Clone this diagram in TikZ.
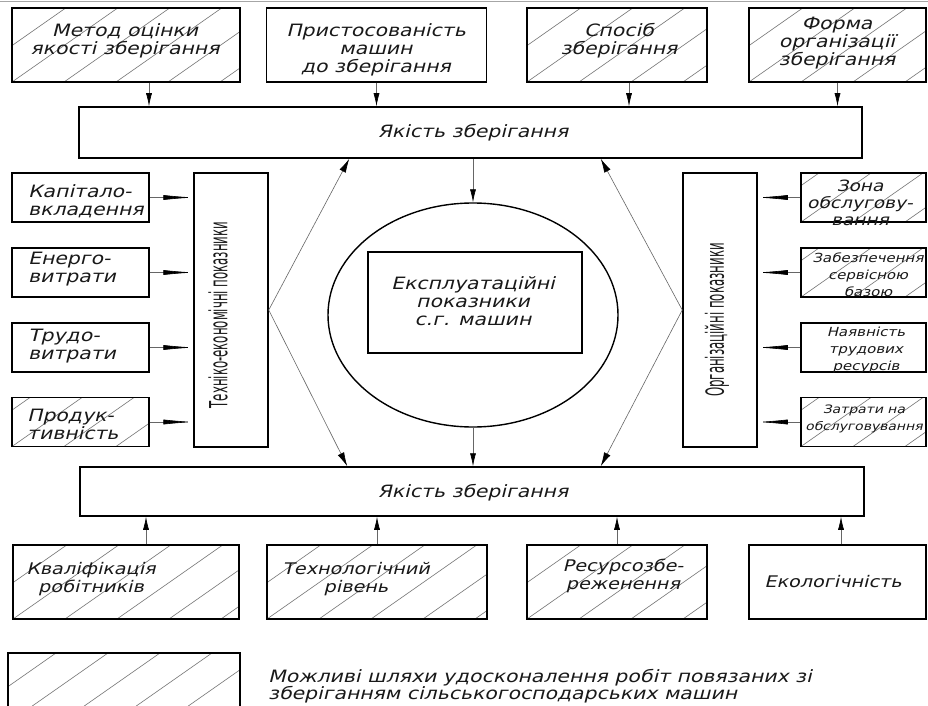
\documentclass[tikz,border=0pt]{standalone}
\usepackage{fontspec}
\setmainfont{DejaVu Sans}
\newfontfamily\gost{DejaVu Sans}[FakeStretch=1.2,FakeSlant=0.25]
\newfontfamily\gostv{DejaVu Sans}[FakeStretch=0.47]
\usetikzlibrary{shapes.geometric,arrows.meta}
\begin{document}
\begin{tikzpicture}[x=1pt,y=-1pt,
  box/.style={draw=black, line width=1.5pt, rectangle, inner sep=0pt},
  hatchline/.style={draw=black!55, line width=0.6pt},
  hatched/.style={path picture={\foreach \k in {-3,...,5}{\draw[hatchline] ([xshift={\k*52pt}]path picture bounding box.south west) -- ++(35:320pt);}}},
  txt/.style={font=\gost\fontsize{17}{18}\selectfont, align=center, inner sep=0pt, text=black!90},
  stxt/.style={font=\gost\fontsize{12.5}{17}\selectfont, align=center, inner sep=0pt, text=black!90},
  vtxt/.style={font=\gostv\fontsize{25}{25}\selectfont, rotate=90, inner sep=0pt, text=black!90},
  arr/.style={draw=black!60, line width=0.6pt, -{Latex[length=13pt,width=6pt,color=black]}},
  harr/.style={draw=black!60, line width=0.6pt, -{Latex[length=30pt,width=5pt,color=black]}},
  darr/.style={draw=black!60, line width=0.6pt, -{Latex[length=14pt,width=7pt,color=black]}}
]
\clip (0,0) rectangle (928,706);
\fill[white] (0,0) rectangle (928,706);
\draw[black!35, line width=1pt] (0,1.5) -- (928,1.5);

% top row
\node[box, hatched, minimum width=228pt, minimum height=74pt] (t1) at (126,45) {};
\node[box, minimum width=220pt, minimum height=74pt] (t2) at (376.5,45) {};
\node[box, hatched, minimum width=180pt, minimum height=74pt] (t3) at (617,45) {};
\node[box, hatched, minimum width=177pt, minimum height=74pt] (t4) at (837.5,45) {};
\node[txt] (t1t) at (125,41) {Метод оцінки\\якості зберігання};
\node[txt] (t2t) at (376,50) {Пристосованість\\машин\\до зберігання};
\node[txt] (t3t) at (619,41) {Спосіб\\зберігання};
\node[txt] (t4t) at (837,43) {Форма\\організації\\зберігання};

% bars
\node[box, minimum width=783pt, minimum height=51pt] (q1) at (470.5,132.5) {};
\node[txt] (q1t) at (473,133) {Якість зберігання};
\node[box, minimum width=784pt, minimum height=49pt] (q2) at (472,491.5) {};
\node[txt] (q2t) at (473,493) {Якість зберігання};

% left column
\node[box, minimum width=137pt, minimum height=49pt] (l1) at (80.5,197.5) {};
\node[box, minimum width=137pt, minimum height=49pt] (l2) at (80.5,272.5) {};
\node[box, minimum width=137pt, minimum height=49pt] (l3) at (80.5,347.5) {};
\node[box, hatched, minimum width=137pt, minimum height=49pt] (l4) at (80.5,422) {};
\node[txt, align=left, anchor=west] (l1t) at (28,201) {Капітало-\\вкладення};
\node[txt, align=left, anchor=west] (l2t) at (28,269) {Енерго-\\витрати};
\node[txt, align=left, anchor=west] (l3t) at (28,346) {Трудо-\\витрати};
\node[txt, align=left, anchor=west] (l4t) at (27,424) {Продук-\\тивність};

\node[box, minimum width=74pt, minimum height=274pt] (L) at (231,310) {};
\node[vtxt] (Lt) at (218,315) {Техніко-економічні показники};

% right column
\node[box, minimum width=74pt, minimum height=274pt] (R) at (720,310) {};
\node[vtxt] (Rt) at (717,320) {Організаційні показники};
\node[box, hatched, minimum width=125pt, minimum height=49pt] (r1) at (863.5,197.5) {};
\node[box, hatched, minimum width=125pt, minimum height=49pt] (r2) at (863.5,272.5) {};
\node[box, minimum width=125pt, minimum height=49pt] (r3) at (863.5,347.5) {};
\node[box, hatched, minimum width=125pt, minimum height=49pt] (r4) at (863.5,422) {};
\node[txt, font=\gost\fontsize{15.5}{17}\selectfont] (r1t) at (860,203) {Зона\\обслугову-\\вання};
\node[stxt] (r2t) at (868,275) {Забезпечення\\сервісною\\базою};
\node[stxt] (r3t) at (866,350) {Наявність\\трудових\\ресурсів};
\node[stxt, font=\gost\fontsize{11.6}{17}\selectfont] (r4t) at (864,419) {Затрати на\\обслуговування};

% centre
\node[draw=black, line width=1.4pt, ellipse, minimum width=290pt, minimum height=224pt, inner sep=0pt] (E) at (473,315) {};
\node[box, line width=1.4pt, minimum width=214pt, minimum height=101pt] (C) at (475,302.5) {};
\node[txt] (Ct) at (473,301) {Експлуатаційні\\показники\\с.г. машин};

% bottom row
\node[box, hatched, minimum width=226pt, minimum height=74pt] (b1) at (126,582) {};
\node[box, hatched, minimum width=220pt, minimum height=74pt] (b2) at (377,582) {};
\node[box, hatched, minimum width=180pt, minimum height=74pt] (b3) at (617,582) {};
\node[box, minimum width=177pt, minimum height=74pt] (b4) at (837.5,582) {};
\node[txt, font=\gost\fontsize{16}{18}\selectfont] (b1t) at (91,579) {Кваліфікація\\робітників};
\node[txt, font=\gost\fontsize{16}{18}\selectfont] (b2t) at (356,579) {Технологічний\\рівень};
\node[txt, font=\gost\fontsize{16}{18}\selectfont] (b3t) at (623,576) {Ресурсозбе-\\реженення};
\node[txt, font=\gost\fontsize{16}{18}\selectfont] (b4t) at (833,582) {Екологічність};

% legend
\node[box, hatched, minimum width=232pt, minimum height=70pt] (lg) at (124,688) {};
\node[txt, font=\gost\fontsize{17}{17}\selectfont, align=left, anchor=west] (lgt) at (268,686) {Можливі шляхи удосконалення робіт повязаних зі\\зберіганням сільськогосподарських машин};

% arrows top
\coordinate (a1) at ([xshift=23pt]t1.south);
\coordinate (a2) at (t2.south);
\coordinate (a3) at ([xshift=12pt]t3.south);
\coordinate (a4) at (t4.south);
\foreach \p in {a1,a2,a3,a4}{\draw[arr] (\p) -- (\p |- q1.north);}
% arrows bottom
\coordinate (c1) at ([xshift=20pt]b1.north);
\coordinate (c2) at (b2.north);
\coordinate (c3) at (b3.north);
\coordinate (c4) at ([xshift=3.5pt]b4.north);
\foreach \p in {c1,c2,c3,c4}{\draw[arr] (\p) -- (\p |- q2.south);}
% side arrows
\foreach \p in {l1,l2,l3,l4}{\draw[harr] (\p.east) -- (\p.east -| L.west);}
\foreach \p in {r1,r2,r3,r4}{\draw[harr] (\p.west) -- (\p.west -| R.east);}
% centre arrows
\draw[arr] (E.north |- q1.south) -- (E.north);
\draw[arr] (E.south) -- (E.south |- q2.north);
% diagonals
\coordinate (d1) at ([xshift=271pt]q1.south west);
\coordinate (d2) at ([xshift=268pt]q2.north west);
\coordinate (d3) at ([xshift=-262pt]q1.south east);
\coordinate (d4) at ([xshift=-264pt]q2.north east);
\draw[darr] (L.east) -- (d1);
\draw[darr] (L.east) -- (d2);
\draw[darr] (R.west) -- (d3);
\draw[darr] (R.west) -- (d4);
\end{tikzpicture}
\end{document}
